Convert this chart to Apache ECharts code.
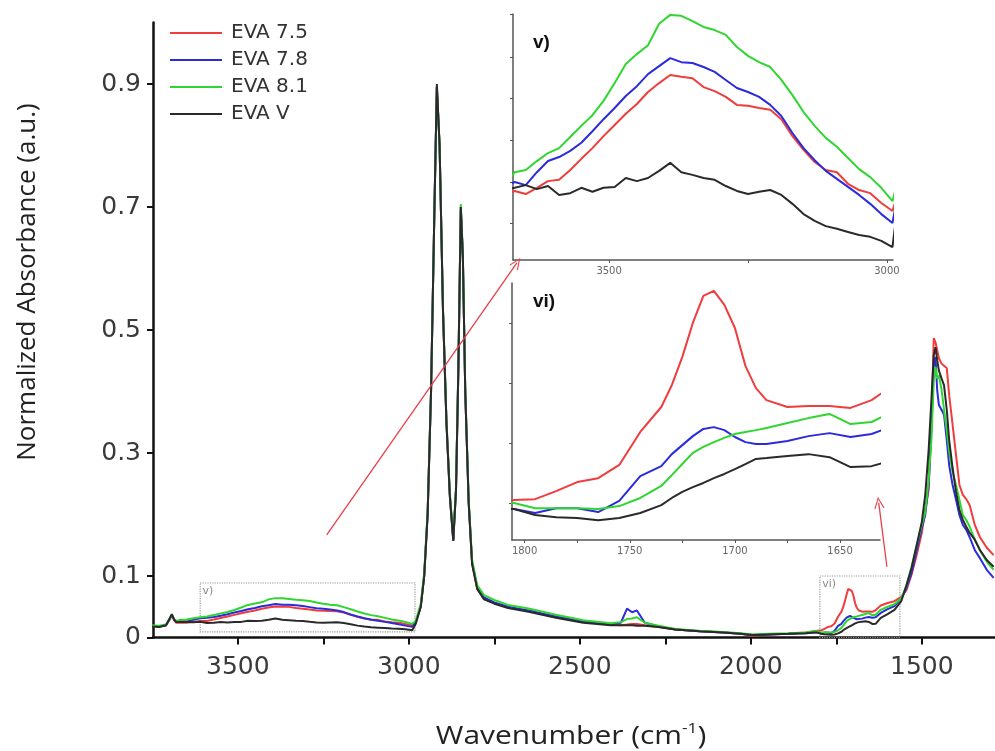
<!DOCTYPE html>
<html>
<head>
<meta charset="utf-8">
<script src="https://cdn.jsdelivr.net/npm/echarts@6/dist/echarts.min.js"></script>
<style>
  html, body { margin: 0; padding: 0; background: #fff; }
  #chart { width: 995px; height: 751px; }
</style>
</head>
<body>
<div id="chart"></div>
<script>
// wavenumber grid (cm-1), shared by all four spectra
var wavenumber = [
  3750, 3730, 3710, 3700, 3693, 3686, 3680,
  3670, 3650, 3630, 3610, 3590, 3570, 3550, 3530, 3510, 3490, 3470, 3450, 3430, 3410, 3390, 3370, 3350, 3330,
  3310, 3290, 3270, 3250, 3230, 3210, 3190, 3170, 3150, 3130, 3110, 3090, 3070, 3050, 3030, 3010, 2990,
  2980, 2965, 2955, 2945, 2935, 2925, 2918, 2910, 2900, 2890, 2880, 2870, 2862, 2855, 2848, 2842, 2835, 2825, 2815, 2800, 2780, 2750,
  2710, 2650, 2570, 2490, 2410, 2380, 2362, 2347, 2333, 2310, 2270, 2220, 2150, 2080, 2030, 1995, 1950, 1890, 1840, 1815,
  1805, 1795, 1785, 1775, 1765, 1755, 1745, 1735, 1730, 1725, 1720, 1715, 1710, 1705, 1700, 1695, 1690, 1685, 1675, 1665, 1655, 1645, 1635, 1630,
  1620, 1600, 1580, 1560, 1545, 1530, 1515, 1500, 1490, 1480, 1472, 1465, 1460, 1455, 1450, 1442, 1435, 1427, 1420, 1410, 1400, 1390, 1380, 1370, 1360, 1345, 1330, 1310, 1290
];

var eva75 = [
  0.019, 0.018, 0.020, 0.029, 0.036, 0.028, 0.024,
  0.0245, 0.0238, 0.0252, 0.0267, 0.0270, 0.0292, 0.0317, 0.0341, 0.0368, 0.0393, 0.0418, 0.0440, 0.0467, 0.0487, 0.0505, 0.0501, 0.0498, 0.0478,
  0.0469, 0.0456, 0.0438, 0.0436, 0.0431, 0.0427, 0.0406, 0.0368, 0.0337, 0.0310, 0.0292, 0.0287, 0.0261, 0.0247, 0.0240, 0.0218, 0.0200,
  0.024, 0.05, 0.10, 0.20, 0.40, 0.70, 0.895, 0.80, 0.53, 0.35, 0.23, 0.158, 0.24, 0.44, 0.695, 0.62, 0.40, 0.22, 0.12, 0.079, 0.063, 0.056,
  0.049, 0.043, 0.033, 0.025, 0.021, 0.020, 0.021, 0.022, 0.022, 0.020, 0.017, 0.013, 0.010, 0.008, 0.006, 0.003, 0.005, 0.006, 0.008, 0.010,
  0.0110, 0.0113, 0.0140, 0.0170, 0.0183, 0.0227, 0.0337, 0.0420, 0.0493, 0.0587, 0.0700, 0.0790, 0.0807, 0.0760, 0.0683, 0.0557, 0.0483, 0.0443, 0.0420, 0.0423, 0.0423, 0.0417, 0.0443, 0.0467,
  0.052, 0.056, 0.059, 0.066, 0.077, 0.102, 0.134, 0.170, 0.207, 0.240, 0.354, 0.487, 0.480, 0.467, 0.454, 0.445, 0.442, 0.438, 0.394, 0.346, 0.297, 0.248, 0.232, 0.225, 0.215, 0.183, 0.163, 0.146, 0.134
];

var eva78 = [
  0.019, 0.018, 0.020, 0.029, 0.036, 0.029, 0.026,
  0.0265, 0.0258, 0.0287, 0.0312, 0.0321, 0.0335, 0.0353, 0.0379, 0.0406, 0.0431, 0.0458, 0.0480, 0.0507, 0.0525, 0.0543, 0.0534, 0.0532, 0.0523,
  0.0512, 0.0494, 0.0476, 0.0467, 0.0456, 0.0438, 0.0413, 0.0375, 0.0341, 0.0314, 0.0290, 0.0272, 0.0254, 0.0236, 0.0216, 0.0193, 0.0173,
  0.024, 0.051, 0.10, 0.20, 0.40, 0.70, 0.895, 0.80, 0.53, 0.35, 0.23, 0.158, 0.24, 0.44, 0.70, 0.62, 0.40, 0.22, 0.122, 0.081, 0.065, 0.057,
  0.050, 0.044, 0.034, 0.026, 0.022, 0.024, 0.047, 0.041, 0.044, 0.024, 0.018, 0.013, 0.010, 0.008, 0.006, 0.004, 0.005, 0.006, 0.007, 0.008,
  0.0080, 0.0067, 0.0083, 0.0083, 0.0070, 0.0107, 0.0190, 0.0223, 0.0263, 0.0293, 0.0323, 0.0347, 0.0353, 0.0343, 0.0320, 0.0303, 0.0297, 0.0297, 0.0307, 0.0323, 0.0333, 0.0320, 0.0330, 0.0343,
  0.040, 0.046, 0.051, 0.064, 0.080, 0.105, 0.142, 0.178, 0.199, 0.248, 0.337, 0.443, 0.456, 0.402, 0.378, 0.370, 0.362, 0.321, 0.280, 0.248, 0.224, 0.199, 0.183, 0.175, 0.163, 0.142, 0.129, 0.110, 0.097
];

var eva81 = [
  0.020, 0.019, 0.021, 0.030, 0.037, 0.030, 0.027,
  0.0287, 0.0292, 0.0312, 0.0330, 0.0341, 0.0366, 0.0391, 0.0415, 0.0447, 0.0487, 0.0530, 0.0552, 0.0572, 0.0620, 0.0640, 0.0638, 0.0626, 0.0613,
  0.0606, 0.0595, 0.0568, 0.0548, 0.0534, 0.0523, 0.0494, 0.0460, 0.0422, 0.0391, 0.0364, 0.0344, 0.0319, 0.0294, 0.0276, 0.0252, 0.0222,
  0.027, 0.055, 0.105, 0.205, 0.40, 0.70, 0.895, 0.80, 0.535, 0.355, 0.235, 0.162, 0.245, 0.445, 0.705, 0.625, 0.405, 0.225, 0.126, 0.085, 0.069, 0.061,
  0.053, 0.047, 0.037, 0.028, 0.023, 0.025, 0.030, 0.031, 0.033, 0.024, 0.019, 0.014, 0.011, 0.009, 0.007, 0.005, 0.006, 0.007, 0.008, 0.010,
  0.0100, 0.0083, 0.0083, 0.0083, 0.0080, 0.0090, 0.0117, 0.0157, 0.0193, 0.0230, 0.0267, 0.0287, 0.0303, 0.0317, 0.0330, 0.0337, 0.0343, 0.0350, 0.0367, 0.0383, 0.0397, 0.0363, 0.0370, 0.0387,
  0.045, 0.050, 0.054, 0.064, 0.084, 0.115, 0.150, 0.183, 0.204, 0.256, 0.321, 0.419, 0.440, 0.421, 0.426, 0.402, 0.370, 0.337, 0.302, 0.269, 0.248, 0.224, 0.199, 0.191, 0.180, 0.159, 0.142, 0.123, 0.110
];

var evaV = [
  0.018, 0.017, 0.020, 0.030, 0.038, 0.029, 0.025,
  0.0252, 0.0258, 0.0249, 0.0256, 0.0236, 0.0240, 0.0252, 0.0243, 0.0252, 0.0254, 0.0274, 0.0267, 0.0274, 0.0290, 0.0308, 0.0287, 0.0281, 0.0274,
  0.0270, 0.0256, 0.0245, 0.0238, 0.0243, 0.0247, 0.0236, 0.0216, 0.0193, 0.0178, 0.0166, 0.0160, 0.0153, 0.0146, 0.0142, 0.0133, 0.0119,
  0.022, 0.05, 0.10, 0.20, 0.40, 0.70, 0.90, 0.80, 0.53, 0.35, 0.23, 0.157, 0.24, 0.44, 0.70, 0.62, 0.40, 0.22, 0.12, 0.079, 0.062, 0.055,
  0.048, 0.042, 0.032, 0.024, 0.020, 0.020, 0.020, 0.020, 0.019, 0.019, 0.017, 0.013, 0.010, 0.008, 0.006, 0.004, 0.005, 0.006, 0.007, 0.008,
  0.0080, 0.0060, 0.0053, 0.0050, 0.0043, 0.0050, 0.0067, 0.0093, 0.0117, 0.0137, 0.0153, 0.0167, 0.0183, 0.0197, 0.0213, 0.0230, 0.0247, 0.0250, 0.0257, 0.0263, 0.0253, 0.0220, 0.0223, 0.0233,
  0.032, 0.038, 0.045, 0.059, 0.085, 0.113, 0.150, 0.188, 0.232, 0.305, 0.386, 0.459, 0.472, 0.451, 0.434, 0.421, 0.410, 0.370, 0.321, 0.276, 0.237, 0.207, 0.191, 0.180, 0.170, 0.159, 0.142, 0.126, 0.115
];

var seriesNames = ['EVA 7.5', 'EVA 7.8', 'EVA 8.1', 'EVA V'];
var seriesValues = [eva75, eva78, eva81, evaV];
var seriesColors = ['#f03c3c', '#2b2bdc', '#30d630', '#2a2a2a'];

var mainXTicks = [1500, 1750, 2000, 2250, 2500, 2750, 3000, 3250, 3500];
var mainXLabels = [1500, 2000, 2500, 3000, 3500];
var mainYLabels = [0, 0.1, 0.3, 0.5, 0.7, 0.9];
var insetVXTicks = [3000, 3250, 3500];
var insetVXLabels = [3000, 3500];
var insetVYTicks = [0.0173, 0.0265, 0.0359, 0.0454, 0.0546, 0.0642];
var insetVIXTicks = [1650, 1675, 1700, 1725, 1750, 1775, 1800];
var insetVIXLabels = [1650, 1700, 1750, 1800];
var insetVIYTicks = [0.01, 0.03, 0.05, 0.07];

var chart = echarts.init(document.getElementById('chart'));

function pairs(values) {
  return wavenumber.map(function (w, i) { return [w, values[i]]; });
}

// plain integers, no thousands separator
function plain(v) { return String(Math.round(v)); }

var arrowHead = 'path://M5,0 L10,10 L9,10.6 L5,2.2 L1,10.6 L0,10 Z';

var series = [];
// 0 = main plot, 1 = inset v), 2 = inset vi)
[0, 1, 2].forEach(function (g) {
  seriesNames.forEach(function (name, i) {
    series.push({
      name: name,
      type: 'line',
      xAxisIndex: g,
      yAxisIndex: g,
      data: pairs(seriesValues[i]),
      showSymbol: false,
      symbol: 'none',
      clip: true,
      lineStyle: { color: seriesColors[i], width: 2 },
      itemStyle: { color: seriesColors[i] },
      silent: true,
      z: 2 + g
    });
  });
});

// dotted zoom boxes and red arrows on the main plot
series[3].markArea = {
  silent: true,
  itemStyle: { color: 'rgba(0,0,0,0)', borderColor: '#9a9a9a', borderWidth: 1.2, borderType: 'dotted' },
  label: { show: true, position: 'insideTopLeft', color: '#8a8a8a', fontSize: 11, fontFamily: 'DejaVu Sans', distance: 3 },
  data: [
    [{ name: 'v)', coord: [3610, 0.0886] }, { coord: [2982, 0.009] }],
    [{ name: 'vi)', coord: [1798, 0.1] }, { coord: [1564, 0] }]
  ]
};
series[3].markLine = {
  silent: true,
  symbol: ['none', arrowHead],
  symbolSize: [10, 12],
  label: { show: false },
  lineStyle: { color: '#e8404a', width: 1.3, type: 'solid' },
  data: [
    [{ coord: [3240, 0.167] }, { coord: [2684, 0.609] }],
    [{ coord: [1602, 0.115] }, { coord: [1626, 0.219] }]
  ]
};

var mainAxisColor = '#111';
var insetAxisColor = '#555';

var option = {
  animation: false,
  backgroundColor: '#fff',
  legend: {
    data: seriesNames,
    orient: 'vertical',
    left: 170,
    top: 23,
    padding: 0,
    itemGap: 7,
    itemWidth: 52,
    itemHeight: 2,
    icon: 'rect',
    textStyle: { fontFamily: 'DejaVu Sans', fontSize: 20, color: '#333', padding: [0, 0, 0, 4] }
  },
  grid: [
    { left: 153, top: 22.5, right: 0, bottom: 113.5, outerBoundsMode: 'none' },
    { left: 513, top: 14, width: 380, height: 246, outerBoundsMode: 'none' },
    { left: 512, top: 283, width: 368, height: 257, outerBoundsMode: 'none' }
  ],
  xAxis: [
    {
      gridIndex: 0, type: 'value', inverse: true, min: 1286, max: 3748,
      axisLine: { show: true, onZero: false, lineStyle: { color: mainAxisColor, width: 2.5 } },
      axisTick: { show: true, length: 7, lineStyle: { color: mainAxisColor, width: 2 }, customValues: mainXTicks },
      axisLabel: { customValues: mainXLabels, formatter: plain, fontFamily: 'DejaVu Sans', fontSize: 25, color: '#3a3a3a', margin: 17 },
      splitLine: { show: false }
    },
    {
      gridIndex: 1, type: 'value', inverse: true, min: 2989, max: 3673,
      axisLine: { show: true, onZero: false, lineStyle: { color: insetAxisColor, width: 1.5 } },
      axisTick: { show: true, length: 3, lineStyle: { color: insetAxisColor }, customValues: insetVXTicks },
      axisLabel: { customValues: insetVXLabels, formatter: plain, fontFamily: 'DejaVu Sans', fontSize: 10, color: '#666', margin: 6 },
      splitLine: { show: false }
    },
    {
      gridIndex: 2, type: 'value', inverse: true, min: 1631, max: 1806,
      axisLine: { show: true, onZero: false, lineStyle: { color: insetAxisColor, width: 1.5 } },
      axisTick: { show: true, length: 3, lineStyle: { color: insetAxisColor }, customValues: insetVIXTicks },
      axisLabel: { customValues: insetVIXLabels, formatter: plain, fontFamily: 'DejaVu Sans', fontSize: 10, color: '#666', margin: 6 },
      splitLine: { show: false }
    }
  ],
  yAxis: [
    {
      gridIndex: 0, type: 'value', min: 0, max: 1.0,
      axisLine: { show: true, onZero: false, lineStyle: { color: mainAxisColor, width: 2.5 } },
      axisTick: { show: true, length: 6, lineStyle: { color: mainAxisColor, width: 2 }, customValues: mainYLabels },
      axisLabel: {
        customValues: mainYLabels, fontFamily: 'DejaVu Sans', fontSize: 25, color: '#3a3a3a', margin: 12,
        formatter: function (v) { return v === 0 ? '0' : v.toFixed(1); }
      },
      splitLine: { show: false }
    },
    {
      gridIndex: 1, type: 'value', min: 0.009, max: 0.0642,
      axisLine: { show: true, onZero: false, lineStyle: { color: insetAxisColor, width: 1.5 } },
      axisTick: { show: true, length: 3, lineStyle: { color: insetAxisColor }, customValues: insetVYTicks },
      axisLabel: { show: false },
      splitLine: { show: false }
    },
    {
      gridIndex: 2, type: 'value', min: -0.0023, max: 0.0833,
      axisLine: { show: true, onZero: false, lineStyle: { color: insetAxisColor, width: 1.5 } },
      axisTick: { show: true, length: 3, lineStyle: { color: insetAxisColor }, customValues: insetVIYTicks },
      axisLabel: { show: false },
      splitLine: { show: false }
    }
  ],
  graphic: [
    {
      type: 'text', x: 28, y: 282, rotation: Math.PI / 2, silent: true,
      style: {
        text: 'Normalized Absorbance (a.u.)', fontFamily: 'Open Sans', fontSize: 26, fill: '#222',
        textAlign: 'center', textVerticalAlign: 'middle', align: 'center', verticalAlign: 'middle'
      }
    },
    {
      type: 'text', x: 571, y: 737, scaleX: 1.15, silent: true,
      style: {
        text: 'Wavenumber (cm{sup|-1})', fontFamily: 'Open Sans', fontSize: 26, fill: '#222', lineHeight: 32,
        textAlign: 'center', textVerticalAlign: 'middle', align: 'center', verticalAlign: 'middle',
        rich: { sup: { fontFamily: 'Open Sans', fontSize: 15, fill: '#222', lineHeight: 32, verticalAlign: 'top' } }
      }
    },
    {
      type: 'text', x: 533, y: 33, silent: true,
      style: { text: 'v)', fontFamily: 'Liberation Sans', fontWeight: 'bold', fontSize: 19, fill: '#111', textVerticalAlign: 'top', verticalAlign: 'top' }
    },
    {
      type: 'text', x: 533, y: 292, silent: true,
      style: { text: 'vi)', fontFamily: 'Liberation Sans', fontWeight: 'bold', fontSize: 19, fill: '#111', textVerticalAlign: 'top', verticalAlign: 'top' }
    }
  ],
  series: series
};

chart.setOption(option);
</script>
</body>
</html>
